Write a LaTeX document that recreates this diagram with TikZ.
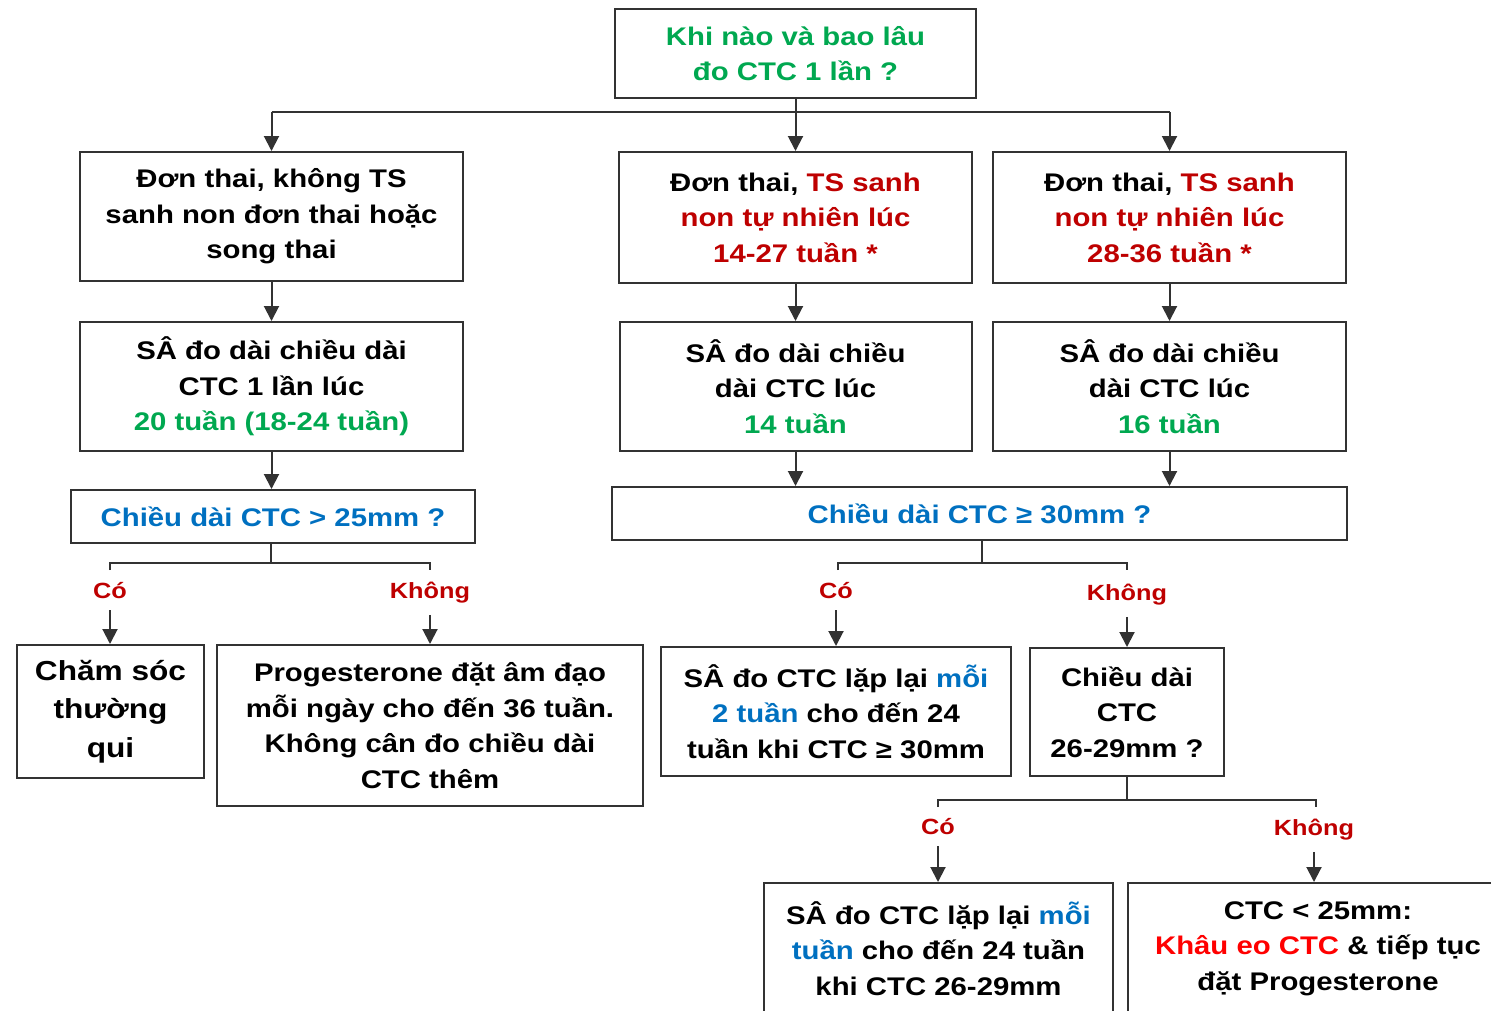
\documentclass[tikz,border=0pt]{standalone}
\usepackage{fontspec}
\setmainfont{Liberation Sans}[FakeStretch=1.15]
\usetikzlibrary{arrows.meta}
\definecolor{ctcgreen}{RGB}{0,168,80}
\definecolor{ctcblue}{RGB}{0,112,192}
\definecolor{ctcred}{RGB}{190,0,0}
\definecolor{ctcbright}{RGB}{255,0,0}
\definecolor{ctcline}{RGB}{50,50,50}
\begin{document}
\begin{tikzpicture}[x=1pt,y=-1pt,
  box/.style={draw=ctcline,line width=2pt,align=center,inner sep=0pt,
    font=\fontsize{25.5}{35.5}\selectfont\bfseries},
  lbl/.style={text=ctcred,inner sep=1pt,font=\fontsize{22}{24}\selectfont\bfseries},
  link/.style={draw=ctcline,line width=2pt},
  go/.style={link,shorten <=10pt,-{Triangle[width=15pt,length=15pt]}}]
\useasboundingbox (0,0) rectangle (1491,1010);

\node[box,minimum width=361,minimum height=89,text=ctcgreen] (ask) at (795.5,53.5)
  {Khi nào và bao lâu\\đo CTC 1 lần ?};

\node[box,minimum width=383,minimum height=129] (one) at (271.5,216.5)
  {Đơn thai, không TS\\sanh non đơn thai hoặc\\song thai};
\node[box,minimum width=353,minimum height=131] (early) at (795.5,217.5)
  {Đơn thai, \textcolor{ctcred}{TS sanh}\\\textcolor{ctcred}{non tự nhiên lúc}\\\textcolor{ctcred}{14-27 tuần *}};
\node[box,minimum width=353,minimum height=131] (late) at (1169.5,217.5)
  {Đơn thai, \textcolor{ctcred}{TS sanh}\\\textcolor{ctcred}{non tự nhiên lúc}\\\textcolor{ctcred}{28-36 tuần *}};

\node[box,minimum width=383,minimum height=129] (oneUS) at (271.5,386.5)
  {SÂ đo dài chiều dài\\CTC 1 lần lúc\\\textcolor{ctcgreen}{20 tuần (18-24 tuần)}};
\node[box,minimum width=352,minimum height=129] (earlyUS) at (795.5,386.5)
  {SÂ đo dài chiều\\dài CTC lúc\\\textcolor{ctcgreen}{14 tuần}};
\node[box,minimum width=353,minimum height=129] (lateUS) at (1169.5,386.5)
  {SÂ đo dài chiều\\dài CTC lúc\\\textcolor{ctcgreen}{16 tuần}};

\node[box,minimum width=404,minimum height=53,text=ctcblue] (q25) at (273,516.5)
  {Chiều dài CTC > 25mm ?};
\node[box,minimum width=735,minimum height=53,text=ctcblue] (q30) at (979.5,513.5)
  {Chiều dài CTC ≥ 30mm ?};

\node[lbl] (yes25) at (110,591) {Có};
\node[lbl] (no25) at (430,593) {Không};
\node[lbl] (yes30) at (836,591) {Có};
\node[lbl] (no30) at (1127,595) {Không};

\node[box,minimum width=187,minimum height=133,font=\fontsize{27.5}{38.5}\selectfont\bfseries] (care) at (110.5,711.5)
  {Chăm sóc\\thường\\qui};
\node[box,minimum width=426,minimum height=161] (proges) at (430,725.5)
  {Progesterone đặt âm đạo\\mỗi ngày cho đến 36 tuần.\\Không cân đo chiều dài\\CTC thêm};
\node[box,minimum width=350,minimum height=129] (every2) at (836,711.5)
  {SÂ đo CTC lặp lại \textcolor{ctcblue}{mỗi}\\\textcolor{ctcblue}{2 tuần} cho đến 24\\tuần khi CTC ≥ 30mm};
\node[box,minimum width=194,minimum height=128] (q26) at (1127,712)
  {Chiều dài\\CTC\\26-29mm ?};

\node[lbl] (yes26) at (938,827) {Có};
\node[lbl] (no26) at (1314,830) {Không};

\node[box,minimum width=349,minimum height=131] (every1) at (938.5,948.5)
  {SÂ đo CTC lặp lại \textcolor{ctcblue}{mỗi}\\\textcolor{ctcblue}{tuần} cho đến 24 tuần\\khi CTC 26-29mm};
\node[box,minimum width=380,minimum height=131] (stitch) at (1318,948.5)
  {CTC < 25mm:\\\textcolor{ctcbright}{Khâu eo CTC} \& tiếp tục\\đặt Progesterone};

\coordinate (top) at (795.5,112);
\draw[link] (ask) -- (top);
\draw[link] (one.north |- top) -- (late.north |- top);
\draw[go,shorten <=0pt] (one.north |- top) -- (one);
\draw[go,shorten <=0pt] (top) -- (early);
\draw[go,shorten <=0pt] (late.north |- top) -- (late);

\draw[go,shorten <=0pt] (one) -- (oneUS);
\draw[go,shorten <=0pt] (early) -- (earlyUS);
\draw[go,shorten <=0pt] (late) -- (lateUS);
\draw[go,shorten <=0pt] (oneUS.south) -- (oneUS.south |- q25.north);
\draw[go,shorten <=0pt] (earlyUS.south) -- (earlyUS.south |- q30.north);
\draw[go,shorten <=0pt] (lateUS.south) -- (lateUS.south |- q30.north);

\draw[link] (271,0 |- q25.south) -- (271,563) coordinate (f25);
\draw[link] (110,570) |- (f25) -| (430,570);
\draw[go] (yes25) -- (yes25 |- care.north);
\draw[go] (no25) -- (no25 |- proges.north);

\draw[link] (982,0 |- q30.south) -- (982,563) coordinate (f30);
\draw[link] (838,570) |- (f30) -| (1127,570);
\draw[go] (yes30) -- (yes30 |- every2.north);
\draw[go] (no30) -- (no30 |- q26.north);

\draw[link] (q26.south) -- (1127,800) coordinate (f26);
\draw[link] (938,807) |- (f26) -| (1316,807);
\draw[go] (yes26) -- (yes26 |- every1.north);
\draw[go] (no26) -- (no26 |- stitch.north);
\end{tikzpicture}
\end{document}
